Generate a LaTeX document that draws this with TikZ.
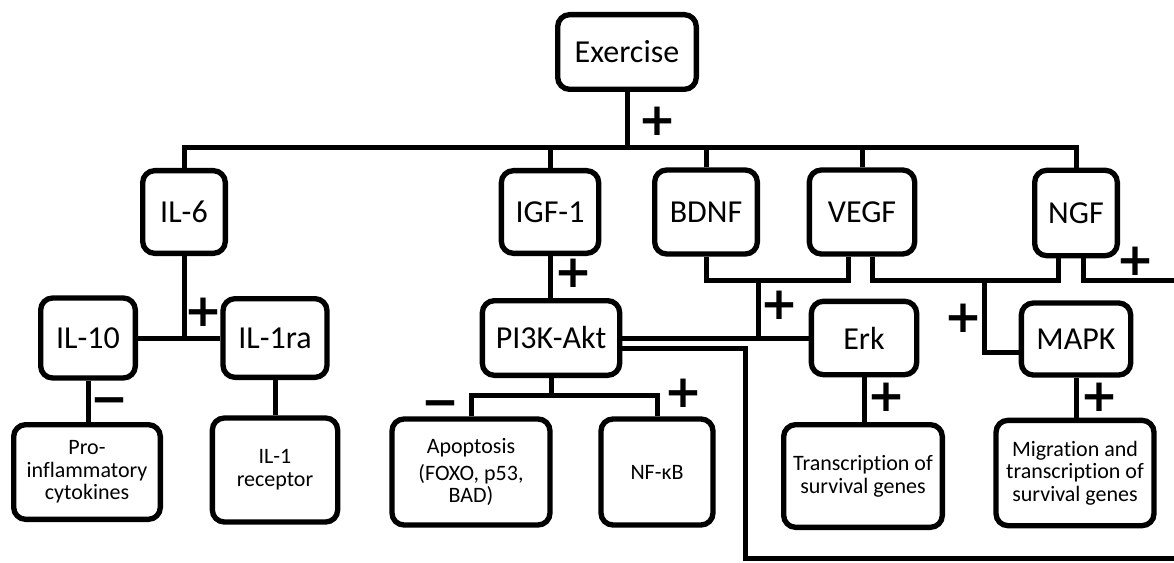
\documentclass[tikz,border=0pt]{standalone}
\usepackage{fontspec}
\setmainfont{Carlito}[Ligatures=NoCommon]
\newfontfamily\signfont{DejaVu Sans}
\usepackage{tikz}
\usetikzlibrary{calc}

\begin{document}
\begin{tikzpicture}[x=0.75pt,y=-0.75pt,
  pathbox/.style={draw=black,line width=4pt,rounded corners=9pt,fill=white,
    inner sep=0pt,align=center,font=\fontsize{24}{28}\selectfont},
  effectbox/.style={pathbox,font=\fontsize{16.5}{17}\selectfont},
  pathlink/.style={line width=3.75pt},
  signmark/.style={inner sep=0pt,
    font=\signfont\bfseries\fontsize{34}{34}\selectfont}
]
  \useasboundingbox[fill=white] (0,0) rectangle (1174,563);

  % top level
  \node[pathbox,minimum width=104pt,minimum height=56pt] (exercise) at (627,52)
    {Exercise};
  \coordinate (exhub) at (627,148);

  % growth factors and cytokine
  \node[pathbox,minimum width=62pt,minimum height=62pt] (il6) at (184,212) {IL-6};
  \node[pathbox,minimum width=73pt,minimum height=62pt] (igf) at (550,212) {IGF-1};
  \node[pathbox,minimum width=77pt,minimum height=63pt] (bdnf) at (706,212) {BDNF};
  \node[pathbox,minimum width=79pt,minimum height=63pt] (vegf) at (862,212) {VEGF};
  \node[pathbox,minimum width=62pt,minimum height=64pt] (ngf) at (1076,213) {NGF};

  % mediators
  \node[pathbox,minimum width=71pt,minimum height=60pt] (il10) at (88,338) {IL-10};
  \node[pathbox,minimum width=78pt,minimum height=59pt] (il1ra) at (275,338) {IL-1ra};
  \node[pathbox,minimum width=103pt,minimum height=56pt] (pi3k) at (551,338)
    {PI3K-Akt};
  \node[pathbox,minimum width=79pt,minimum height=55pt] (erk) at (864,338) {Erk};
  \node[pathbox,minimum width=82pt,minimum height=54pt] (mapk) at (1076,339) {MAPK};

  % effects
  \node[effectbox,minimum width=110pt,minimum height=71pt] (procyto) at (87,472)
    {Pro-\\inflammatory\\cytokines};
  \node[effectbox,minimum width=94pt,minimum height=78pt] (il1rec) at (275,470)
    {IL-1\\receptor};
  \node[effectbox,minimum width=118.5pt,minimum height=79.5pt] (apoptosis)
    at (471,472) {Apoptosis\\[3pt](FOXO, p53,\\BAD)};
  \node[effectbox,minimum width=84pt,minimum height=79.5pt] (nfkb) at (657,472)
    {NF-κB};
  \node[effectbox,minimum width=119pt,minimum height=77pt] (transcr) at (863,476)
    {Transcription of\\survival genes};
  \node[effectbox,minimum width=118.5pt,minimum height=79pt] (migration)
    at (1075,473) {Migration and\\transcription of\\survival genes};

  % exercise branches
  \draw[pathlink] (exercise.south) -- (exhub);
  \draw[pathlink] (il6.north) |- (exhub) -| (ngf.north);
  \foreach \nm in {igf,bdnf,vegf}
    \draw[pathlink] (\nm.north) -- (\nm.north |- exhub);

  % IL-6 branch
  \coordinate (il6hub) at (il6.south |- il10.east);
  \draw[pathlink] (il6.south) -- (il6hub);
  \draw[pathlink] (il10.east) -- (il1ra.west);
  \draw[pathlink] (il10.south) -- (il10.south |- procyto.north);
  \draw[pathlink] (il1ra.south) -- (il1ra.south |- il1rec.north);

  % IGF-1 branch
  \draw[pathlink] (igf.south) -- (igf.south |- pi3k.north);
  \coordinate (pihub) at (551,395);
  \draw[pathlink] (pi3k.south) -- (pihub);
  \draw[pathlink] (apoptosis.north) |- (pihub) -| (nfkb.north);

  % BDNF / VEGF to Erk
  \coordinate (erkhub) at (758,280);
  \draw[pathlink] (bdnf.south) |- (erkhub) -| ($(vegf.south)+(-14,0)$);
  \draw[pathlink] (pi3k.east) -- (erk.west);
  \draw[pathlink] (erkhub) -- (erkhub |- erk.west);
  \coordinate (loopturn) at (745,558);
  \coordinate (loopend) at (1174,558);
  \draw[pathlink] ($(pi3k.east)+(0,10)$) -| (loopturn) -- (loopend);

  % VEGF / NGF to MAPK
  \coordinate (mapkhub) at (984,280);
  \draw[pathlink] ($(vegf.south)+(10,0)$) |- (mapkhub) -| ($(ngf.south)+(-18,0)$);
  \draw[pathlink] (mapkhub) |- ($(mapk.west)+(0,13)$);
  \coordinate (ngfend) at (1174,280);
  \draw[pathlink] ($(ngf.south)+(7,0)$) |- (ngfend);

  \draw[pathlink] (erk.south) -- (erk.south |- transcr.north);
  \draw[pathlink] (mapk.south) -- (mapk.south |- migration.north);

  % signs
  \node[signmark] (sgex) at (657,121) {+};
  \node[signmark] (sgil6) at (203,312) {+};
  \node[signmark] (sgil10) at (109,400) {\vphantom{+}−};
  \node[signmark] (sgigf) at (573,273) {+};
  \node[signmark] (sgapo) at (440,403) {\vphantom{+}−};
  \node[signmark] (sgnfkb) at (683,393) {+};
  \node[signmark] (sgerk) at (779,305) {+};
  \node[signmark] (sgmapk) at (963,318) {+};
  \node[signmark] (sgngf) at (1135,261) {+};
  \node[signmark] (sgtrans) at (886,397) {+};
  \node[signmark] (sgmigr) at (1099,397) {+};
\end{tikzpicture}
\end{document}
